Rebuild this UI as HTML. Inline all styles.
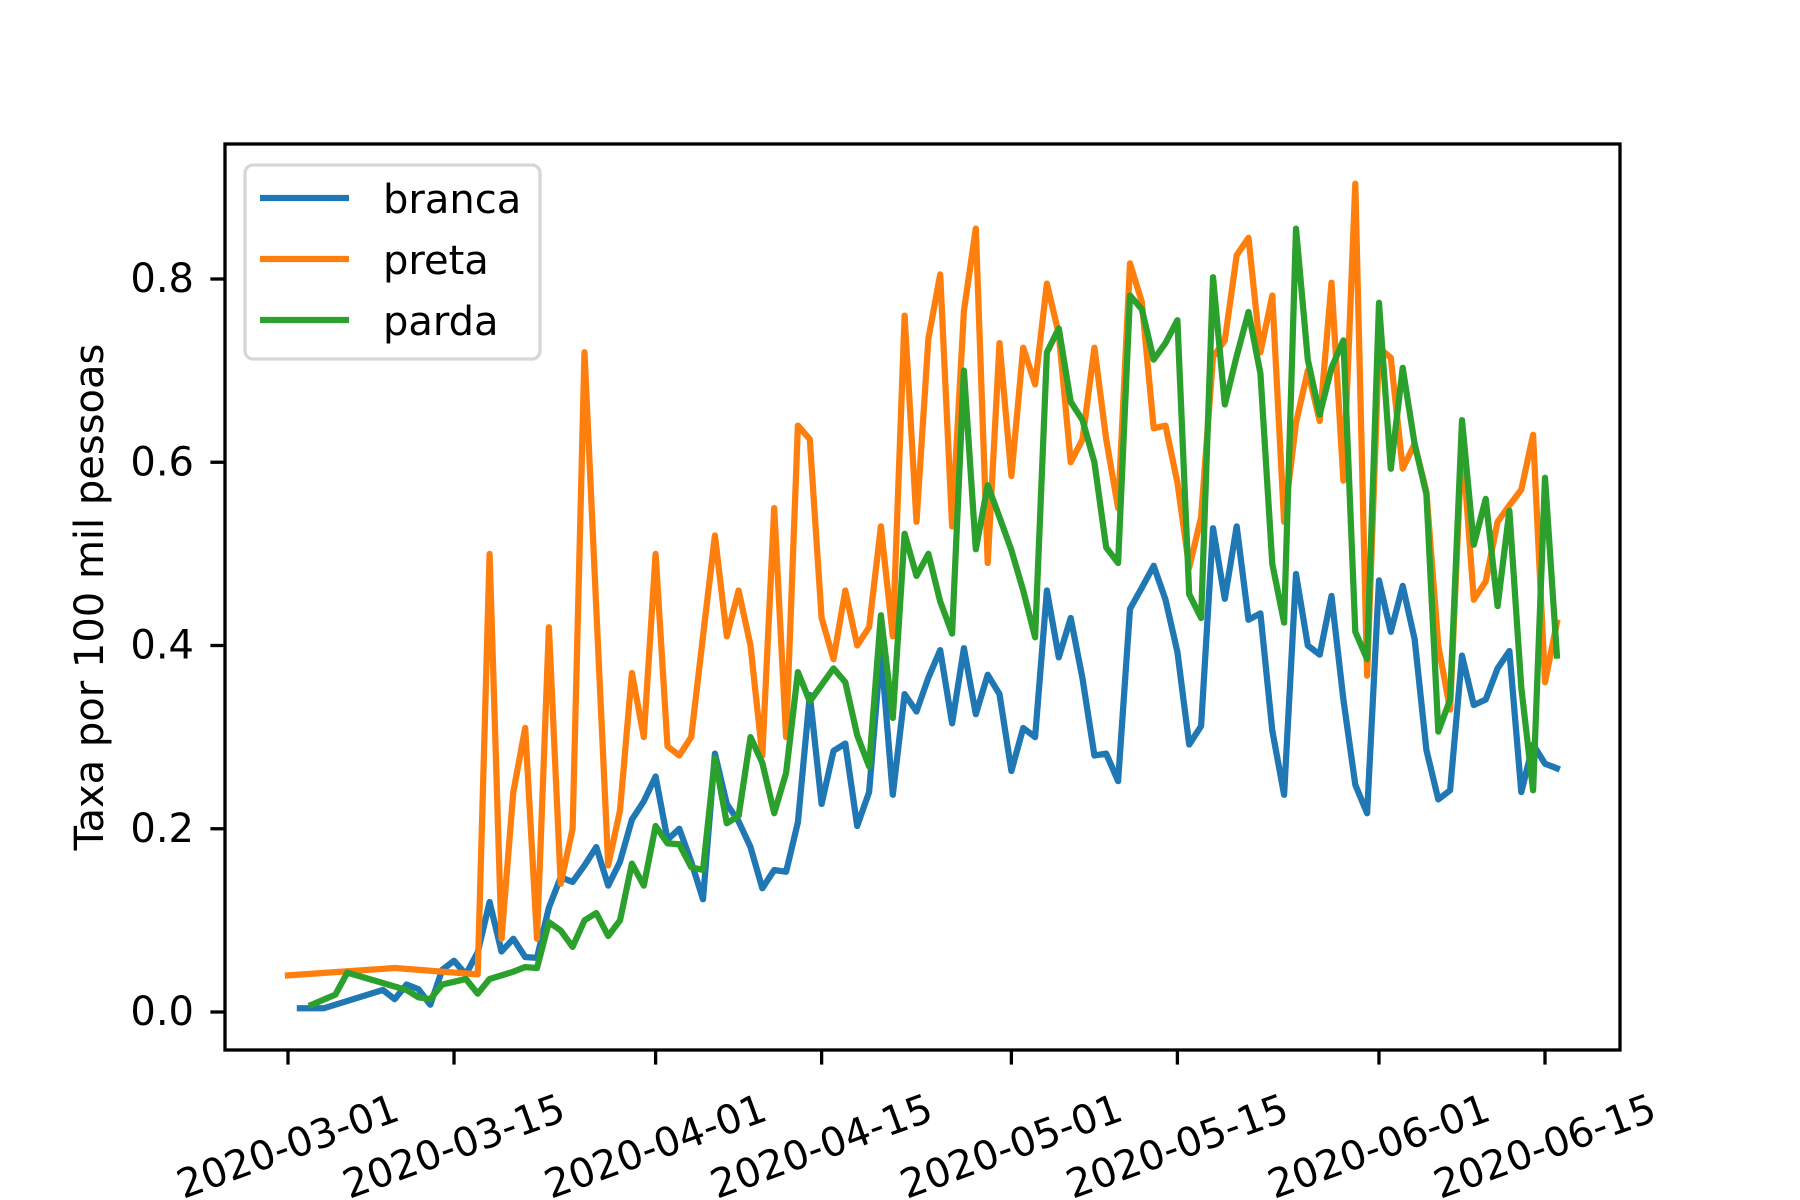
<!DOCTYPE html>
<html><head><meta charset="utf-8"><style>
html,body{margin:0;padding:0;background:#fff;}
svg{display:block;font-family:"DejaVu Sans","Liberation Sans",sans-serif;}
</style></head><body>
<svg id="chart" width="1800" height="1200" viewBox="0 0 1800 1200">
<rect x="0" y="0" width="1800" height="1200" fill="#fff"/>
<g id="series"></g>
<g id="axes"></g>
<text transform="translate(103,597) rotate(-90)" text-anchor="middle" font-size="40" fill="#000">Taxa por 100 mil pessoas</text>
<g>
<rect x="245" y="165" width="295" height="194" rx="8" ry="8" fill="#fff" fill-opacity="0.8" stroke="#d6d6d6" stroke-width="3.3"/>
<line x1="260" y1="198" x2="349" y2="198" stroke="#1f77b4" stroke-width="6.25"/>
<text x="383" y="213" font-size="40">branca</text>
<line x1="260" y1="259" x2="349" y2="259" stroke="#ff7f0e" stroke-width="6.25"/>
<text x="383" y="274" font-size="40">preta</text>
<line x1="260" y1="320" x2="349" y2="320" stroke="#2ca02c" stroke-width="6.25"/>
<text x="383" y="335" font-size="40">parda</text>
</g>
</svg>
<script>
// day offsets from 2020-03-01
const brancaDays = [1,3,8,9,10,11,12,13,14,15,16,17,18,19,20,21,22,23,24,25,26,27,28,29,30,31,32,33,34,35,36,37,38,39,40,41,42,43,44,45,46,47,48,49,50,51,52,53,54,55,56,57,58,59,60,61,62,63,64,65,66,67,68,69,70,71,72,73,74,75,76,77,78,79,80,81,82,83,84,85,86,87,88,89,90,91,92,93,94,95,96,97,98,99,100,101,102,103,104,105,106,107];
const brancaValues = [0.004,0.004,0.024,0.014,0.03,0.025,0.008,0.046,0.056,0.041,0.065,0.12,0.066,0.08,0.06,0.059,0.114,0.147,0.142,0.16,0.18,0.138,0.164,0.21,0.23,0.257,0.188,0.2,0.164,0.123,0.282,0.227,0.208,0.18,0.135,0.155,0.153,0.207,0.346,0.227,0.285,0.293,0.203,0.24,0.396,0.237,0.347,0.328,0.365,0.395,0.315,0.397,0.325,0.368,0.347,0.263,0.31,0.3,0.46,0.387,0.43,0.364,0.28,0.282,0.252,0.44,0.463,0.487,0.45,0.393,0.292,0.312,0.528,0.451,0.53,0.428,0.435,0.307,0.237,0.478,0.4,0.39,0.454,0.341,0.248,0.217,0.471,0.415,0.465,0.407,0.286,0.232,0.242,0.389,0.335,0.341,0.375,0.394,0.24,0.292,0.271,0.266];
const pretaDays = [0,9,16,17,18,19,20,21,22,23,24,25,26,27,28,29,30,31,32,33,34,35,36,37,38,39,40,41,42,43,44,45,46,47,48,49,50,51,52,53,54,55,56,57,58,59,60,61,62,63,64,65,66,67,68,69,70,71,72,73,74,75,76,77,78,79,80,81,82,83,84,85,86,87,88,89,90,91,92,93,94,95,96,97,98,99,100,101,102,103,104,105,106,107];
const pretaValues = [0.04,0.048,0.041,0.5,0.08,0.24,0.31,0.08,0.42,0.14,0.2,0.72,0.44,0.16,0.22,0.37,0.3,0.5,0.29,0.28,0.3,0.41,0.52,0.41,0.46,0.4,0.28,0.55,0.3,0.64,0.625,0.43,0.385,0.46,0.4,0.42,0.53,0.41,0.76,0.535,0.735,0.805,0.53,0.765,0.855,0.49,0.73,0.585,0.725,0.685,0.795,0.74,0.6,0.625,0.725,0.625,0.55,0.817,0.775,0.637,0.64,0.578,0.485,0.54,0.715,0.733,0.826,0.845,0.72,0.782,0.535,0.643,0.7,0.645,0.796,0.58,0.904,0.367,0.725,0.714,0.593,0.62,0.568,0.4,0.33,0.625,0.45,0.47,0.535,0.553,0.57,0.63,0.36,0.425];
const pardaDays = [2,4,5,10,11,12,13,14,15,16,17,18,19,20,21,22,23,24,25,26,27,28,29,30,31,32,33,34,35,36,37,38,39,40,41,42,43,44,45,46,47,48,49,50,51,52,53,54,55,56,57,58,59,60,61,62,63,64,65,66,67,68,69,70,71,72,73,74,75,76,77,78,79,80,81,82,83,84,85,86,87,88,89,90,91,92,93,94,95,96,97,98,99,100,101,102,103,104,105,106,107];
const pardaValues = [0.008,0.019,0.043,0.024,0.016,0.014,0.03,0.033,0.036,0.02,0.036,0.04,0.044,0.049,0.048,0.098,0.089,0.071,0.1,0.108,0.083,0.1,0.162,0.138,0.203,0.184,0.183,0.158,0.155,0.277,0.206,0.214,0.3,0.272,0.217,0.261,0.371,0.339,0.357,0.375,0.36,0.302,0.268,0.433,0.321,0.522,0.476,0.5,0.448,0.413,0.7,0.505,0.575,0.54,0.504,0.46,0.409,0.72,0.746,0.666,0.646,0.6,0.507,0.49,0.782,0.767,0.712,0.73,0.755,0.456,0.43,0.802,0.663,0.716,0.764,0.697,0.489,0.425,0.855,0.712,0.652,0.703,0.733,0.415,0.385,0.774,0.593,0.703,0.62,0.565,0.306,0.341,0.646,0.51,0.56,0.443,0.547,0.354,0.242,0.583,0.389];
const xTickDays = [0,14,31,45,61,75,92,106];
const xTickLabels = ["2020-03-01","2020-03-15","2020-04-01","2020-04-15","2020-05-01","2020-05-15","2020-06-01","2020-06-15"];
const yTickValues = [0,0.2,0.4,0.6,0.8];
const yTickLabels = ["0.0","0.2","0.4","0.6","0.8"];

const NS = "http://www.w3.org/2000/svg";
const AX = {l:225, r:1620, t:144, b:1050};
function xScale(d){ return 288 + d * (1545 - 288) / 106; }
function yScale(v){ return 1012 - v * (1012 - 279) / 0.8; }

const seriesG = document.getElementById('series');
function drawSeries(days, vals, color, name){
  const p = document.createElementNS(NS,'polyline');
  p.setAttribute('points', days.map((d,i)=>xScale(d).toFixed(1)+','+yScale(vals[i]).toFixed(1)).join(' '));
  p.setAttribute('fill','none');
  p.setAttribute('stroke',color);
  p.setAttribute('stroke-width','6.25');
  p.setAttribute('stroke-linejoin','round');
  p.setAttribute('stroke-linecap','square');
  
  
  seriesG.appendChild(p);
}
drawSeries(brancaDays, brancaValues, '#1f77b4', 'line-branca');
drawSeries(pretaDays, pretaValues, '#ff7f0e', 'line-preta');
drawSeries(pardaDays, pardaValues, '#2ca02c', 'line-parda');

const axG = document.getElementById('axes');
const frame = document.createElementNS(NS,'rect');
frame.setAttribute('x',AX.l); frame.setAttribute('y',AX.t);
frame.setAttribute('width',AX.r-AX.l); frame.setAttribute('height',AX.b-AX.t);
frame.setAttribute('fill','none'); frame.setAttribute('stroke','#000'); frame.setAttribute('stroke-width','3.3');


axG.appendChild(frame);

xTickDays.forEach((d,i)=>{
  const x = xScale(d);
  const t = document.createElementNS(NS,'line');
  t.setAttribute('x1',x); t.setAttribute('x2',x); t.setAttribute('y1',AX.b); t.setAttribute('y2',AX.b+14.6);
  t.setAttribute('stroke','#000'); t.setAttribute('stroke-width','3.3');
  
  
  axG.appendChild(t);
  const tx = document.createElementNS(NS,'text');
  tx.setAttribute('transform','translate('+x+',1147) rotate(-20)');
  tx.setAttribute('text-anchor','middle');
  tx.setAttribute('dominant-baseline','central');
  tx.setAttribute('font-size','40');
  tx.textContent = xTickLabels[i];
  
  
  axG.appendChild(tx);
});
yTickValues.forEach((v,i)=>{
  const y = yScale(v);
  const t = document.createElementNS(NS,'line');
  t.setAttribute('x1',AX.l-14.6); t.setAttribute('x2',AX.l); t.setAttribute('y1',y); t.setAttribute('y2',y);
  t.setAttribute('stroke','#000'); t.setAttribute('stroke-width','3.3');
  
  
  axG.appendChild(t);
  const tx = document.createElementNS(NS,'text');
  tx.setAttribute('x',194); tx.setAttribute('y',y);
  tx.setAttribute('text-anchor','end');
  tx.setAttribute('dominant-baseline','central');
  tx.setAttribute('font-size','40');
  tx.textContent = yTickLabels[i];
  
  
  axG.appendChild(tx);
});
</script>
</body></html>
